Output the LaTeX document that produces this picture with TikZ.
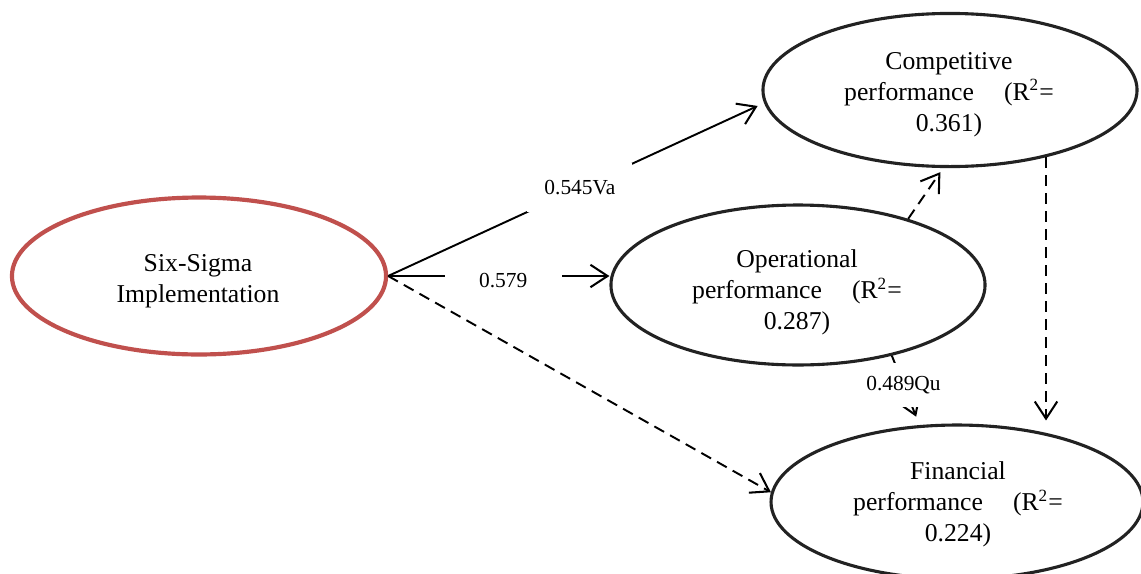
\documentclass[tikz,border=0pt]{standalone}
\usepackage{fontspec}
\setmainfont{Liberation Serif}
\usetikzlibrary{arrows.meta,shapes.geometric}
\definecolor{sixred}{RGB}{192,80,77}
\definecolor{ringgray}{RGB}{34,34,34}
\begin{document}
\begin{tikzpicture}[x=0.467pt,y=-0.467pt,
  construct/.style={ellipse, draw=ringgray, line width=1.45pt, inner sep=0pt},
  ctext/.style={align=center, inner sep=0pt, font=\fontsize{12}{14.5}\selectfont},
  conn/.style={line width=0.9pt, -{Straight Barb[length=8pt,width=10.5pt,line width=0.95pt]}},
  dconn/.style={conn, dash pattern=on 5.2pt off 3.2pt},
  coef/.style={fill=white, font=\fontsize{10}{12}\selectfont}]
\useasboundingbox (0,0) rectangle (1141,573);
\node[construct, draw=sixred, line width=1.95pt, minimum width=174.7pt, minimum height=73.3pt] (six) at (199,276) {};
\node[construct, minimum width=174.7pt, minimum height=71.5pt] (comp) at (950,90) {};
\node[construct, minimum width=174.7pt, minimum height=74.7pt] (op) at (798,285) {};
\node[construct, minimum width=173.7pt, minimum height=71.9pt] (fin) at (957,502) {};

\node[ctext] (sixtext) at (198,281) {Six-Sigma\\Implementation};
\node[ctext] (comptext) at (949,94.5) {Competitive\\performance\hspace{11pt} (R\textsuperscript{2}=\\0.361)};
\node[ctext] (optext) at (797,292.5) {Operational\\performance\hspace{11pt} (R\textsuperscript{2}=\\0.287)};
\node[ctext] (fintext) at (958,504.5) {Financial\\performance\hspace{11pt} (R\textsuperscript{2}=\\0.224)};

\draw[conn, shorten >=3.3pt] (six.east) -- node[coef, pos=0.51, inner xsep=8pt, inner ysep=8pt] {0.545Va} (comp.184);
\draw[conn] (six.east) -- node[coef, pos=0.52, yshift=-1.9pt, inner xsep=16pt, inner ysep=4pt] {0.579} (six.east -| op.west);
\draw[dconn] (six.east) -- (fin.177);
\draw[dconn, shorten >=2.3pt] (op.31) -- (comp.265);
\draw[dconn, shorten >=1.4pt] (comp.-35) -- (comp.-35 |- fin.north);
\draw[conn, shorten >=4.2pt] (op.-37) -- node[coef, pos=0.42, inner xsep=2pt, inner ysep=6pt] {0.489Qu} (fin.116);
\end{tikzpicture}
\end{document}
